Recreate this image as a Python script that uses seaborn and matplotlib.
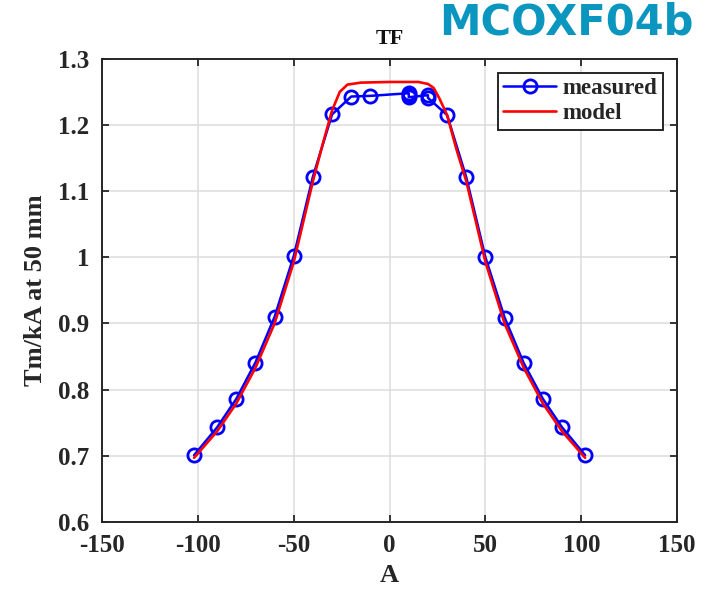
import numpy as np
import pandas as pd
import matplotlib
matplotlib.use("Agg")
import matplotlib.pyplot as plt
import seaborn as sns

# ---- data ----
A_meas = [-102, -90, -80, -70, -60, -50, -40, -30, -20, -10, 10, 10, 10, 20, 20, 30, 40, 50, 60, 70, 80, 90, 102]
TF_meas = [0.701, 0.743, 0.786, 0.841, 0.910, 1.002, 1.122, 1.216, 1.243, 1.244, 1.248, 1.245, 1.242,
           1.245, 1.241, 1.215, 1.121, 1.000, 0.909, 0.840, 0.786, 0.743, 0.701]

A_model = [-102, -90, -80, -70, -60, -50, -40, -35, -30, -26, -22, -15, 0, 15, 20, 23, 26, 30, 35, 40, 50, 60, 70, 80, 90, 102]
TF_model = [0.697, 0.737, 0.779, 0.833, 0.900, 0.993, 1.115, 1.170, 1.222, 1.250, 1.261, 1.264, 1.265, 1.265, 1.262,
            1.256, 1.240, 1.215, 1.162, 1.115, 0.993, 0.900, 0.833, 0.779, 0.737, 0.697]

x_ticks = [-150, -100, -50, 0, 50, 100, 150]
y_ticks = [0.6, 0.7, 0.8, 0.9, 1.0, 1.1, 1.2, 1.3]
y_ticklabels = ["0.6", "0.7", "0.8", "0.9", "1", "1.1", "1.2", "1.3"]

df_meas = pd.DataFrame({"A": A_meas, "TF": TF_meas})
df_model = pd.DataFrame({"A": A_model, "TF": TF_model})

sns.set_theme(style="white")
plt.rcParams["font.family"] = ["Liberation Serif", "DejaVu Serif"]
plt.rcParams["font.weight"] = "bold"

fig = plt.figure(figsize=(7.09, 6.0), dpi=100)
ax = fig.add_axes([0.144, 0.130, 0.811, 0.772])

sns.lineplot(data=df_meas, x="A", y="TF", sort=False, estimator=None, ax=ax,
             color="#0000FF", linewidth=1.8, marker="o", markersize=9.5,
             markerfacecolor="none", markeredgecolor="#0000FF", markeredgewidth=2.0,
             label="measured", zorder=3)
sns.lineplot(data=df_model, x="A", y="TF", sort=False, estimator=None, ax=ax,
             color="#FF0000", linewidth=1.9, label="model", zorder=4)

ax.set_xlim(-150, 150)
ax.set_ylim(0.6, 1.3)
ax.set_xticks(x_ticks)
ax.set_xticklabels([str(t) for t in x_ticks])
ax.set_yticks(y_ticks)
ax.set_yticklabels(y_ticklabels)

ax.grid(True, color="#DCDCDC", linewidth=1.1)
ax.set_axisbelow(True)
for s in ax.spines.values():
    s.set_visible(True)
    s.set_color("#262626")
    s.set_linewidth(1.4)
ax.tick_params(axis="both", which="both", direction="in", length=5, width=1.3,
               top=True, right=True, bottom=True, left=True,
               labelsize=18, colors="#262626", labelcolor="#262626")
ax.tick_params(axis="x", pad=9)
ax.tick_params(axis="y", pad=9)
for lab in ax.get_xticklabels() + ax.get_yticklabels():
    lab.set_fontweight("bold")

ax.set_xlabel("A", fontsize=19, fontweight="bold", color="#262626", labelpad=5)
ax.set_ylabel("Tm/kA at 50 mm", fontsize=19, fontweight="bold", color="#262626", labelpad=8)
ax.set_title("TF", fontsize=16, fontweight="bold", color="#111111", pad=11)

leg = ax.legend(loc="upper right", frameon=True, fancybox=False,
                edgecolor="#262626", handlelength=2.3, handletextpad=0.3,
                borderpad=0.25, labelspacing=0.15, borderaxespad=0.6,
                prop={"weight": "bold", "size": 16.5})
leg.get_frame().set_linewidth(1.4)
leg.get_frame().set_alpha(1.0)

fig.text(0.978, 0.962, "MCOXF04b", fontsize=30, fontweight="bold", color="#0A96BE",
         family=["DejaVu Sans"], ha="right", va="center")

fig.savefig("out.png", dpi=100)
